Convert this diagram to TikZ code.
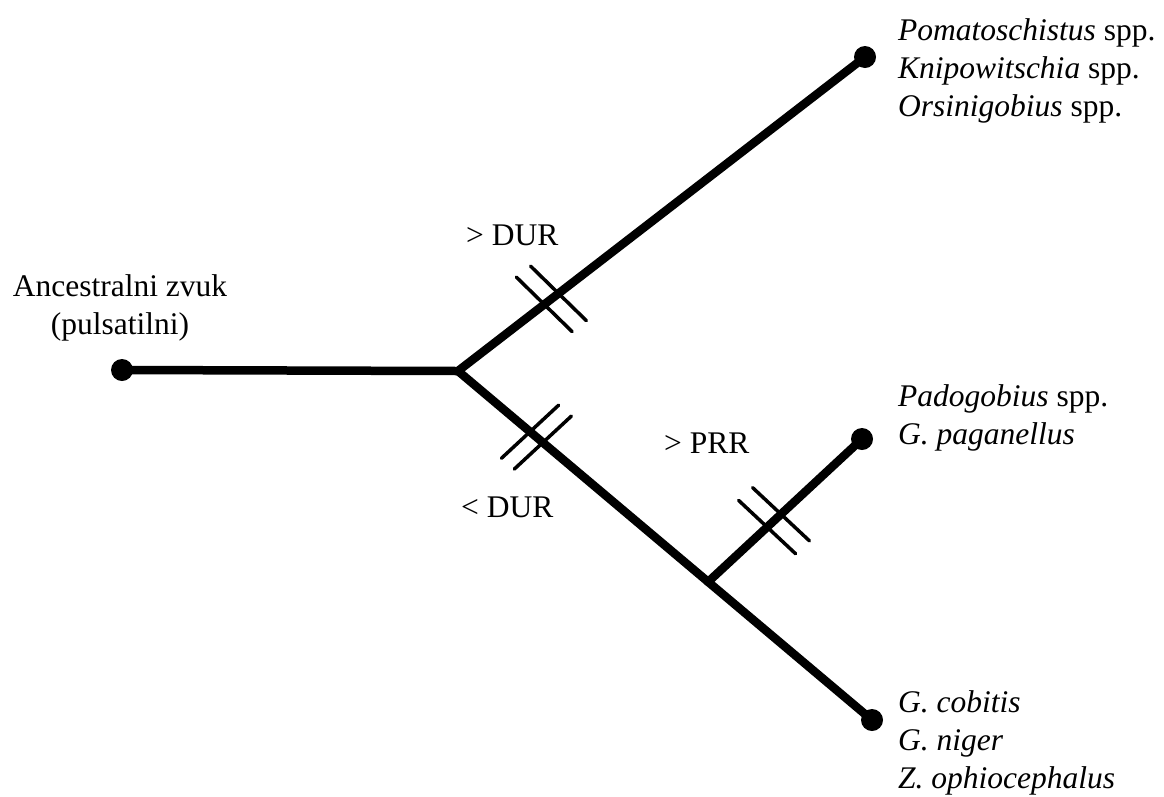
\documentclass[tikz,border=0pt]{standalone}
\usepackage{fontspec}
\setmainfont{Liberation Serif}
\usetikzlibrary{calc}
\tikzset{
  branch/.style={line width=8.5pt, line cap=round, line join=round},
  tick/.style={line width=3.5pt, line cap=round},
  leaf/.style={circle, fill, inner sep=0pt, minimum size=22pt},
  taxon/.style={anchor=base west, inner sep=0pt, align=left, font=\fontsize{31.5}{38}\selectfont},
  change/.style={anchor=base west, inner sep=0pt, font=\fontsize{31.5}{38}\selectfont},
}
\begin{document}
\begin{tikzpicture}[x=1pt, y=-1pt]
  \useasboundingbox (0,0) rectangle (1164,796);
  % tips and forks
  \node[leaf] (root) at (122,370) {};
  \coordinate (split) at (458,371);
  \node[leaf] (top) at (865,57) {};
  \coordinate (fork) at (708,582);
  \node[leaf] (pado) at (862,439) {};
  \node[leaf] (bottom) at (872,720) {};
  % branches
  \draw[branch] (root.center) -- (split) -- (top.center);
  \draw[branch] (split) -- (bottom.center);
  \draw[branch] (fork) -- (pado.center);
  % character changes
  \foreach \a/\b/\f/\r/\s in {split/top/0.212/98/-82, split/top/0.247/98/-82,
      split/bottom/0.174/83/-97, split/bottom/0.205/83/-97,
      fork/pado/0.384/94/-86, fork/pado/0.474/94/-86}
    \draw[tick] ($(\a)!\f!(\b)!39pt!\r:(\b)$) -- ($(\a)!\f!(\b)!39pt!\s:(\b)$);
  % labels (base = last line)
  \node[change, anchor=base, align=center] (ancestor) at (120,334) {Ancestralni zvuk\\(pulsatilni)};
  \node[change] (durup) at (466,245) {> DUR};
  \node[change] (durdown) at (461,517) {< DUR};
  \node[change] (prr) at (664,453) {> PRR};
  \node[taxon] (taxatop) at (898,116) {\textit{Pomatoschistus} spp.\\\textit{Knipowitschia} spp.\\\textit{Orsinigobius} spp.};
  \node[taxon] (taxamid) at (898,444) {\textit{Padogobius} spp.\\\textit{G. paganellus}};
  \node[taxon] (taxalow) at (898,788) {\textit{G. cobitis}\\\textit{G. niger}\\\textit{Z. ophiocephalus}};
\end{tikzpicture}
\end{document}
